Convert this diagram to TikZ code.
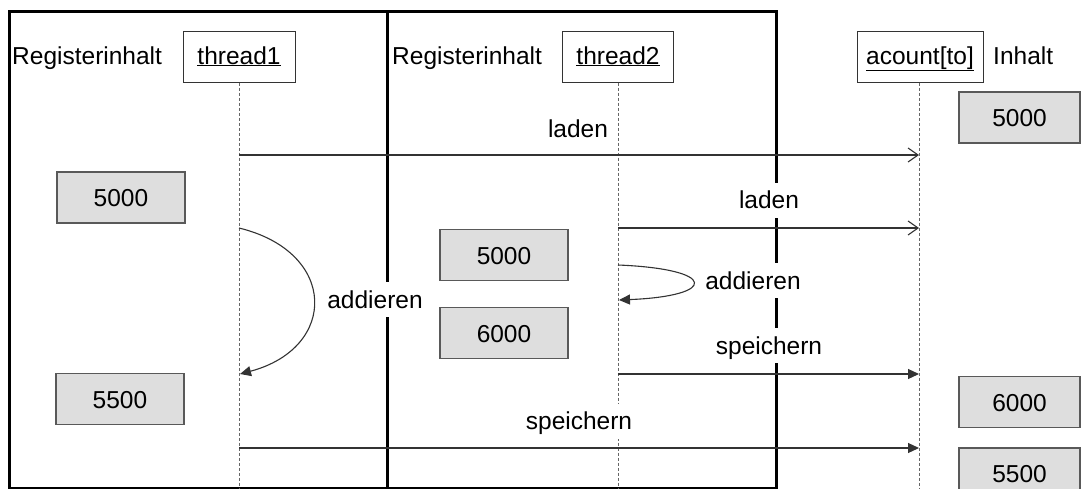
\documentclass[tikz,border=0pt]{standalone}
\usepackage{fontspec}
\setmainfont{Liberation Sans}
\usetikzlibrary{arrows.meta}
\begin{document}
\begin{tikzpicture}[x=1pt,y=-1pt,
  every node/.style={font=\fontsize{24.5}{29}\selectfont},
  frame/.style={draw=black, line width=3pt},
  objbox/.style={draw=black!80, line width=1pt, minimum height=51pt, inner sep=0pt,
    text height=18.5pt, text depth=3.5pt},
  valbox/.style={draw=black!65, fill=black!13, line width=1.5pt, minimum width=128pt,
    minimum height=51pt, inner sep=0pt, text height=18pt, text depth=0pt},
  plain/.style={inner sep=0pt, text height=18.5pt, text depth=3.5pt},
  lifeline/.style={draw=black!60, dash pattern=on 3pt off 2pt, line width=1pt},
  msg/.style={draw=black!80, line width=1.1pt},
  async/.style={msg, -{Straight Barb[length=10pt,width=14pt]}},
  sync/.style={msg, -{Triangle[length=11pt,width=10pt]}},
  lbl/.style={fill=white, inner xsep=2pt, inner ysep=6pt, text height=20pt, text depth=3pt},
]
\clip (0,0) rectangle (1081,488);
\fill[white] (0,0) rectangle (1081,488);

% swimlane frames of the two threads
\draw[frame] (9,11) rectangle (387,488.3);
\draw[frame] (387,11) rectangle (776,488.3);

% column headers
\node[plain, anchor=west] (reg1) at (12,56.5) {Registerinhalt};
\node[plain, anchor=west] (reg2) at (392,56.5) {Registerinhalt};
\node[plain, anchor=west] (inh) at (993,56.5) {Inhalt};

% objects with their lifelines
\node[objbox, minimum width=112pt] (t1) at (239,56.5) {\underline{thread1}};
\node[objbox, minimum width=111pt] (t2) at (618,56.5) {\underline{thread2}};
\node[objbox, minimum width=126pt] (acc) at (920,56.5) {\underline{acount[to]}};
\coordinate (t1end) at (239,490);
\coordinate (t2end) at (618,490);
\coordinate (accend) at (919,490);
\draw[lifeline] (t1.south) -- (t1end);
\draw[lifeline] (t2.south) -- (t2end);
\draw[lifeline] (acc.south -| accend) -- (accend);

% register and memory contents
\node[valbox] (r1a) at (121,197.5) {5000};
\node[valbox] (r1b) at (120,399) {5500};
\node[valbox] (r2a) at (504,255) {5000};
\node[valbox] (r2b) at (504,333) {6000};
\node[valbox, minimum width=121pt] (m1) at (1019.5,117.5) {5000};
\node[valbox, minimum width=121pt] (m2) at (1019.5,402) {6000};
\node[valbox, minimum width=121pt] (m3) at (1019.5,473.5) {5500};

% message end points on the lifelines
\coordinate (a1) at (239,155);   \coordinate (b1) at (919,155);
\coordinate (a2) at (618,228);   \coordinate (b2) at (919,228);
\coordinate (c1) at (239,228);   \coordinate (d1) at (240,374);
\coordinate (c2) at (618,265);   \coordinate (d2) at (619,300);
\coordinate (a3) at (618,374);   \coordinate (b3) at (919,374);
\coordinate (a4) at (239,448);   \coordinate (b4) at (919,448);

% messages
\draw[async] (a1) -- (b1);
\draw[async] (a2) -- (b2);
\draw[sync] (c1) .. controls (338,252) and (338,348) .. (d1);
\draw[sync] (c2) .. controls (718,269) and (718,296) .. (d2);
\draw[sync] (a3) -- (b3);
\draw[sync] (a4) -- (b4);

% message labels
\node[lbl] (la1) at (578,129) {laden};
\node[lbl] (la2) at (769,200) {laden};
\node[lbl] (ad1) at (375,299.5) {addieren};
\node[lbl] (ad2) at (753,280.5) {addieren};
\node[lbl] (sp1) at (769,345.5) {speichern};
\node[lbl] (sp2) at (579,421) {speichern};
\end{tikzpicture}
\end{document}
